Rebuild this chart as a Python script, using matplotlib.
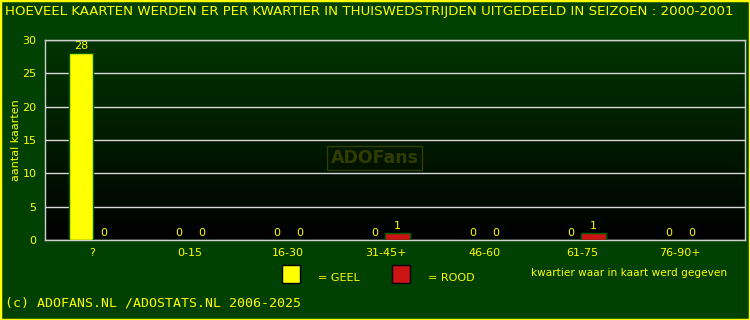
import numpy as np
import matplotlib
matplotlib.use('Agg')
import matplotlib.pyplot as plt
from matplotlib.patches import Rectangle

# data
quarters = ['?', '0-15', '16-30', '31-45+', '46-60', '61-75', '76-90+']
geel = [28, 0, 0, 0, 0, 0, 0]
rood = [0, 0, 0, 1, 0, 1, 0]

BG = '#004000'
YEL = '#ffff00'
RED = '#cc1414'

fig = plt.figure(figsize=(7.5, 3.2), dpi=100, facecolor=BG)
ax = fig.add_axes([0.06, 0.25, 0.933, 0.625])
ax.set_facecolor('black')

# gradient background inside plot
grad = np.linspace(0, 1, 256).reshape(-1, 1)
cmap = matplotlib.colors.LinearSegmentedColormap.from_list('g', ['#000000', '#003400'])
ax.imshow(grad, aspect='auto', cmap=cmap, origin='lower',
          extent=[0, 1, 0, 1], transform=ax.transAxes, zorder=0)

x = np.arange(len(quarters))
w = 0.25
off = 0.115
ax.bar(x - off, geel, w, color=YEL, edgecolor='#006000', linewidth=1, zorder=3)
ax.bar(x + off, rood, w, color=RED, edgecolor='#006000', linewidth=1, zorder=3)
for i in range(len(quarters)):
    ax.text(x[i] - off, geel[i] + 0.3, str(geel[i]), color=YEL, ha='center',
            va='bottom', fontsize=8, zorder=4)
    ax.text(x[i] + off, rood[i] + 0.3, str(rood[i]), color=YEL, ha='center',
            va='bottom', fontsize=8, zorder=4)

ax.set_xlim(-0.48, 6.66)
ax.set_ylim(0, 30)
ax.set_yticks(range(0, 31, 5))
ax.set_xticks(x)
ax.set_xticklabels(quarters)
ax.tick_params(colors=YEL, labelsize=8, length=0, pad=6)
ax.yaxis.grid(True, color='#d8d8d8', linewidth=1, zorder=1)
for s in ax.spines.values():
    s.set_color('#d0d0d0')
    s.set_linewidth(1)
ax.set_ylabel('aantal kaarten', color=YEL, fontsize=8, labelpad=1)

# watermark
ax.text(0.471, 0.41, 'ADOFans', transform=ax.transAxes, ha='center', va='center',
        fontsize=12.5, fontweight='bold', color='#323c00', zorder=2,
        bbox=dict(boxstyle='square,pad=0.2', fc='none', ec='#323c00', lw=1))

# title / footer
fig.text(5/750, 1 - 12/320, 'HOEVEEL KAARTEN WERDEN ER PER KWARTIER IN THUISWEDSTRIJDEN UITGEDEELD IN SEIZOEN : 2000-2001',
         color=YEL, fontsize=9.65, ha='left', va='center')
fig.text(5/750, 1 - 303/320, '(c) ADOFANS.NL /ADOSTATS.NL 2006-2025', color=YEL,
         fontsize=9.5, family='DejaVu Sans Mono', ha='left', va='center')
fig.text(727/750, 1 - 273/320, 'kwartier waar in kaart werd gegeven', color=YEL,
         fontsize=7.6, ha='right', va='center')

# legend
fig.patches.append(Rectangle((282/750, 1 - 283/320), 18/750, 18/320, transform=fig.transFigure,
                             fc=YEL, ec='black', lw=1))
fig.text(318/750, 1 - 278/320, '= GEEL', color=YEL, fontsize=8, va='center')
fig.patches.append(Rectangle((392/750, 1 - 283/320), 18/750, 18/320, transform=fig.transFigure,
                             fc=RED, ec='black', lw=1))
fig.text(428/750, 1 - 278/320, '= ROOD', color=YEL, fontsize=8, va='center')

# yellow border
fig.patches.append(Rectangle((0, 0), 1, 1, transform=fig.transFigure, fc='none',
                             ec=YEL, lw=2.5))

fig.savefig('out.png', dpi=100, facecolor=BG)
